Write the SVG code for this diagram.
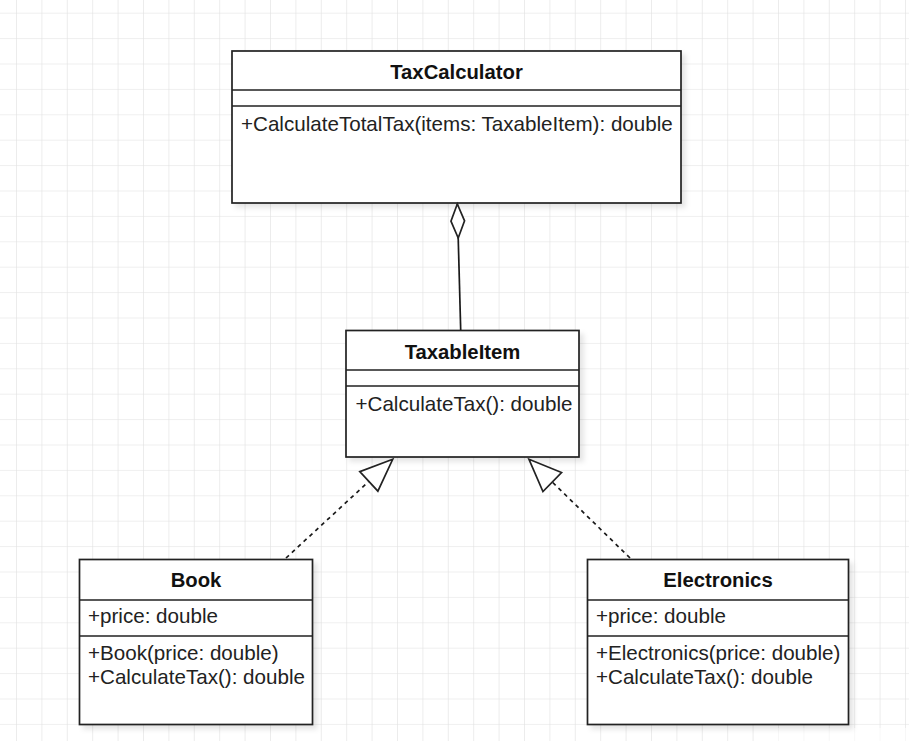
<svg xmlns="http://www.w3.org/2000/svg" width="909" height="741" viewBox="0 0 909 741">
  <defs>
    <pattern id="grid" x="16" y="12.7" width="25.4" height="25.4" patternUnits="userSpaceOnUse">
      <path d="M0,0 H25.4 M0,0 V25.4" fill="none" stroke="#e0e0e0" stroke-width="1.2"/>
    </pattern>
    <filter id="shadow" x="-5%" y="-5%" width="115%" height="125%">
      <feDropShadow dx="4" dy="4" stdDeviation="2.5" flood-color="#000" flood-opacity="0.10"/>
    </filter>
    <marker id="triangle" viewBox="-36 -16 38 32" markerWidth="38" markerHeight="32" refX="0" refY="0" orient="auto" markerUnits="userSpaceOnUse" overflow="visible">
      <path d="M0,0 L-32.5,-13.3 L-32.5,13.3 Z" fill="#fff" stroke="#222" stroke-width="1.7"/>
    </marker>
    <marker id="diamond" viewBox="-36 -9 38 18" markerWidth="38" markerHeight="18" refX="0" refY="0" orient="auto" markerUnits="userSpaceOnUse" overflow="visible">
      <path d="M0,0 L-17,-6.8 L-34,0 L-17,6.8 Z" fill="#fff" stroke="#222" stroke-width="1.7"/>
    </marker>
  </defs>
  <style>
    .box { fill: #fff; stroke: #222; stroke-width: 1.7; filter: url(#shadow); }
    .div { stroke: #222; stroke-width: 1.7; fill: none; }
    .title { font-family: "Liberation Sans", Arial, sans-serif; font-size: 20.3px; font-weight: bold; fill: #111; text-anchor: middle; }
    .member { font-family: "Liberation Sans", Arial, sans-serif; font-size: 20.6px; fill: #222; }
    .assoc { fill: none; stroke: #1a1a1a; stroke-width: 1.7; }
    .real { fill: none; stroke: #1a1a1a; stroke-width: 1.7; stroke-dasharray: 4 4; }
  </style>

  <rect x="0" y="0" width="909" height="741" fill="#fff"/>
  <rect x="0" y="0" width="909" height="741" fill="url(#grid)"/>
  <rect x="770" y="728" width="139" height="13" fill="#fff" opacity="0.6"/>

  <g id="TaxCalculator">
    <rect class="box" x="232" y="51" width="449" height="152"/>
    <path class="div" d="M232,90 H681 M232,106 H681"/>
    <text class="title" x="456.5" y="79">TaxCalculator</text>
    <text class="member" x="241" y="131">+CalculateTotalTax(items: TaxableItem): double</text>
  </g>

  <g id="TaxableItem">
    <rect class="box" x="346" y="330.5" width="233" height="126.5"/>
    <path class="div" d="M346,370 H579 M346,386 H579"/>
    <text class="title" x="462.5" y="359">TaxableItem</text>
    <text class="member" x="355.5" y="411">+CalculateTax(): double</text>
  </g>

  <g id="Book">
    <rect class="box" x="79.5" y="559.5" width="233" height="165"/>
    <path class="div" d="M79.5,600 H312.5 M79.5,636 H312.5"/>
    <text class="title" x="196" y="587">Book</text>
    <text class="member" x="88" y="623">+price: double</text>
    <text class="member" x="88" y="660">+Book(price: double)</text>
    <text class="member" x="88" y="684">+CalculateTax(): double</text>
  </g>

  <g id="Electronics">
    <rect class="box" x="587.5" y="559.5" width="261" height="165"/>
    <path class="div" d="M587.5,600 H848.5 M587.5,636 H848.5"/>
    <text class="title" x="718" y="587">Electronics</text>
    <text class="member" x="596" y="623">+price: double</text>
    <text class="member" x="596" y="660">+Electronics(price: double)</text>
    <text class="member" x="596" y="684">+CalculateTax(): double</text>
  </g>

  <g id="connectors">
    <path class="assoc" d="M460.7,330 L457.3,204" marker-end="url(#diamond)"/>
    <path class="real" d="M286,558 L392.7,459.3" marker-end="url(#triangle)"/>
    <path class="real" d="M630,558 L529,459.3" marker-end="url(#triangle)"/>
  </g>
</svg>
